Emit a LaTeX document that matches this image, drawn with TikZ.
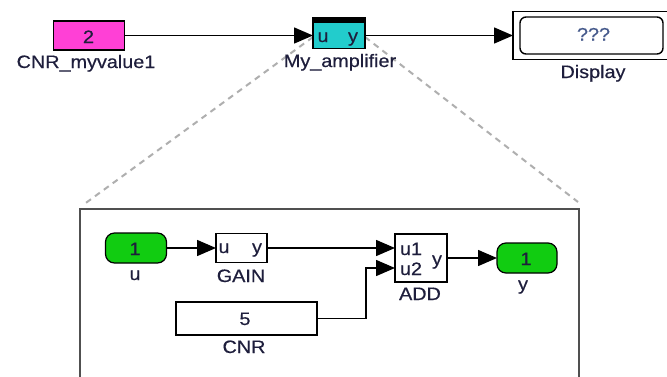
\documentclass[tikz,border=0pt]{standalone}
\usepackage{fontspec}
\setmainfont{Liberation Sans}[FakeStretch=1.1,FakeBold=0.4]
\usetikzlibrary{arrows.meta}
\definecolor{magblk}{RGB}{255,64,214}
\definecolor{cyanblk}{RGB}{34,204,204}
\definecolor{greenport}{RGB}{17,204,17}
\definecolor{txtcol}{RGB}{30,30,60}
\definecolor{qcol}{RGB}{70,90,140}
\definecolor{framegray}{RGB}{80,80,80}
\definecolor{dashgray}{RGB}{175,175,175}
\begin{document}
\begin{tikzpicture}[x=1pt,y=-1pt,
  every node/.style={font=\fontsize{18}{20}\selectfont, text=txtcol, inner sep=0pt, outer sep=0pt},
  blockbox/.style={draw=black, line width=1.5pt, rectangle},
  portshape/.style={draw=black, line width=1.2pt, fill=greenport, rounded corners=9pt, minimum width=61pt, minimum height=30pt},
  conn/.style={line width=1.5pt, -{Triangle[length=19pt,width=16pt]}},
  zoomline/.style={draw=dashgray, line width=2pt, dash pattern=on 6pt off 5pt},
  lbl/.style={anchor=base},
  framebox/.style={draw=framegray, line width=2.4pt}
]
\useasboundingbox (0,0) rectangle (667,376);
\clip (0,0) rectangle (667,376);
\fill[white] (0,0) rectangle (667,376);

% ---- blocks, top level ----
\node[blockbox, fill=magblk, minimum width=71pt, minimum height=29pt] (cnrone) at (89,35.5) {};
\node[draw=black, line width=1.5pt, minimum width=159pt, minimum height=48pt] (disp) at (592.5,35.5) {};
\node[draw=black, line width=1.4pt, rounded corners=6pt, minimum width=143pt, minimum height=37pt] (dispin) at (591.5,35.5) {};

% zoom lines (behind amp)
\coordinate (zl) at (83,205);
\coordinate (zr) at (578,202);
\coordinate (zls) at (313,37);
\coordinate (zrs) at (365,37);
\draw[zoomline] (zls) -- (zl);
\draw[zoomline] (zrs) -- (zr);
% amplifier block on top of dashed lines
\node[blockbox, fill=cyanblk, minimum width=52pt, minimum height=26pt] (ampb) at (339,35.5) {};
\fill[black] ([xshift=-0.75pt]ampb.north west) rectangle ([xshift=0.75pt,yshift=5.5pt]ampb.north east);

% texts inside top blocks
\node[lbl] (cnronetxt) at (88.5,43) {2};
\node[lbl] (ampu) at (323,42) {u};
\node[lbl] (ampy) at (353,42) {y};
\node[lbl, text=qcol] (disptxt) at (593.5,40.5) {???};

% labels top
\node[lbl] (cnronelbl) at (86,68) {CNR\_myvalue1};
\node[lbl] (amplbl) at (340,67) {My\_amplifier};
\node[lbl] (displbl) at (593,78) {Display};

% connectors top
\draw[conn] (cnrone.east) -- (ampb.west);
\draw[conn] (ampb.east) -- (disp.west);

% ---- subsystem frame ----
\draw[framebox] (80,209) rectangle (579,400);

% inner blocks
\node[portshape] (uin) at (136,248) {};
\node[blockbox, fill=white, minimum width=51pt, minimum height=29pt] (gain) at (241.5,248) {};
\node[blockbox, fill=white, minimum width=52pt, minimum height=48pt] (add) at (421,258) {};
\node[blockbox, fill=white, minimum width=141pt, minimum height=33pt] (cnr) at (246.5,318.5) {};
\node[portshape, minimum width=60pt] (yout) at (527,258) {};

% inner texts
\node[lbl] (uintxt) at (135,255) {1};
\node[lbl] (uinlbl) at (135,280) {u};
\node[lbl] (gainu) at (224,253) {u};
\node[lbl] (gainy) at (257,253) {y};
\node[lbl] (gainlbl) at (241,282) {GAIN};
\node[lbl] (cnrtxt) at (245,325) {5};
\node[lbl] (cnrlbl) at (244,353) {CNR};
\node[lbl] (addu1) at (411,255) {u1};
\node[lbl] (addu2) at (411,275) {u2};
\node[lbl] (addy) at (437,265) {y};
\node[lbl] (addlbl) at (420,300) {ADD};
\node[lbl] (youttxt) at (526,265) {1};
\node[lbl] (youtlbl) at (523,290) {y};

% inner connectors
\coordinate (addin1) at ([yshift=10pt]add.west);
\coordinate (addin2) at ([yshift=-10pt]add.west);
\coordinate (bend) at (366,318.5);
\draw[conn] (uin.east) -- (gain.west);
\draw[conn] (gain.east) -- (addin1);
\draw[conn] (cnr.east) -- (bend) |- (addin2);
\draw[conn] (add.east) -- (yout.west);
\end{tikzpicture}
\end{document}
